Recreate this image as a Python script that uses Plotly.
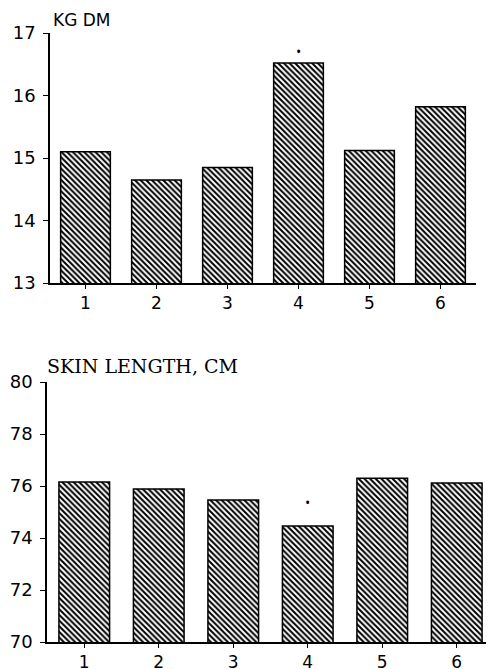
import plotly.graph_objects as go

groups = ["1", "2", "3", "4", "5", "6"]
kg_dm = [15.1, 14.65, 14.85, 16.52, 15.12, 15.82]
skin_length = [76.15, 75.88, 75.46, 74.46, 76.3, 76.12]
kg_ticks = [13, 14, 15, 16, 17]
skin_ticks = [70, 72, 74, 76, 78, 80]
signif_group = "4"

OFF = 8  # page body margin
W, H = 494 - OFF, 669 - OFF

def dom_x(a, b):
    return [(a - OFF) / W, min(1.0, (b - OFF) / W)]

def dom_y(top, bot):
    return [(H - (bot - OFF)) / H, (H - (top - OFF)) / H]

def px(x):
    return (x - OFF) / W

def py(y):
    return (H - (y - OFF)) / H

pattern = dict(shape="\\", size=4, solidity=0.5, fgcolor="black", bgcolor="white", fillmode="replace")

fig = go.Figure()
fig.add_trace(go.Bar(x=groups, y=kg_dm, width=0.7,
                     marker=dict(color="white", pattern=pattern, line=dict(color="black", width=1.5)),
                     xaxis="x", yaxis="y", showlegend=False))
fig.add_trace(go.Bar(x=groups, y=skin_length, width=0.68,
                     marker=dict(color="white", pattern=pattern, line=dict(color="black", width=1.5)),
                     xaxis="x2", yaxis="y2", showlegend=False))

tickfont = dict(family="DejaVu Sans", size=18, color="black")
xtickfont = dict(family="DejaVu Sans", size=17, color="black")

common_x = dict(type="category", range=[-0.5, 5.5], showline=True, linecolor="black", linewidth=1.5,
                ticks="outside", ticklen=4, tickcolor="black", tickfont=xtickfont, showgrid=False,
                zeroline=False, fixedrange=True)
common_y = dict(showline=True, linecolor="black", linewidth=1.5, ticks="outside", ticklen=5,
                tickcolor="black", tickfont=tickfont, showgrid=False, zeroline=False, fixedrange=True,
                ticklabelstandoff=4)

sig_idx = groups.index(signif_group)

fig.update_layout(
    width=W, height=H,
    margin=dict(l=0, r=0, t=0, b=0, autoexpand=False),
    paper_bgcolor="white", plot_bgcolor="white",
    xaxis=dict(common_x, domain=dom_x(50, 476), anchor="y"),
    yaxis=dict(common_y, domain=dom_y(33, 283), range=[13, 17], tickvals=kg_ticks, anchor="x"),
    xaxis2=dict(common_x, domain=dom_x(47, 494), anchor="y2"),
    yaxis2=dict(common_y, domain=dom_y(382, 642), range=[70, 80], tickvals=skin_ticks, anchor="x2"),
    annotations=[
        dict(text="KG DM", x=px(51), y=py(8), xref="paper", yref="paper", xanchor="left",
             yanchor="top", showarrow=False, font=dict(family="DejaVu Sans", size=17, color="black")),
        dict(text="SKIN LENGTH, CM", x=px(45), y=py(353), xref="paper", yref="paper",
             xanchor="left", yanchor="top", showarrow=False,
             font=dict(family="DejaVu Serif", size=19, color="black")),
        dict(text="•", x=sig_idx, y=kg_dm[sig_idx], xref="x", yref="y",
             yanchor="bottom", yshift=0, showarrow=False, font=dict(size=14, color="black")),
        dict(text="•", x=sig_idx, y=skin_length[sig_idx], xref="x2", yref="y2",
             yanchor="bottom", yshift=12, showarrow=False, font=dict(size=14, color="black")),
    ],
)

fig.write_html("out.html")
